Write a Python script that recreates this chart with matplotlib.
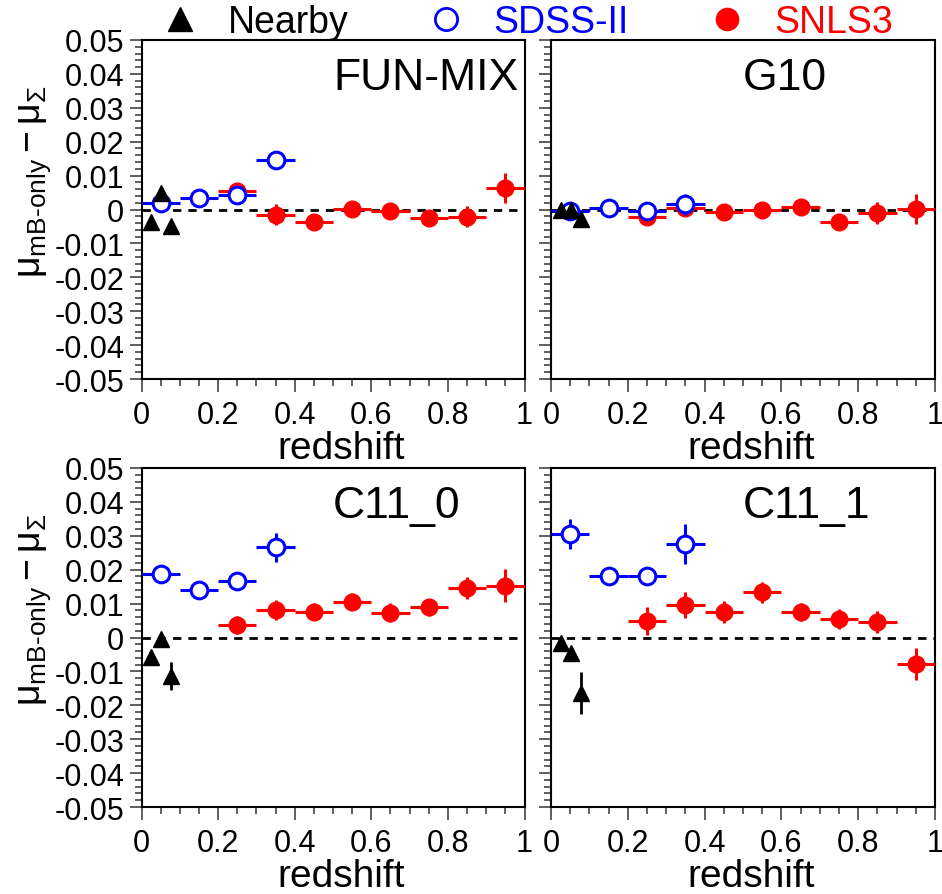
import matplotlib
matplotlib.use("Agg")
import matplotlib.pyplot as plt
from matplotlib.lines import Line2D
from matplotlib.ticker import MultipleLocator, FuncFormatter

plt.rcParams['font.family'] = ['Liberation Sans', 'DejaVu Sans']
plt.rcParams['mathtext.fontset'] = 'custom'
plt.rcParams['mathtext.rm'] = 'Liberation Sans'
plt.rcParams['mathtext.it'] = 'Liberation Sans:italic'
plt.rcParams['axes.unicode_minus'] = False

# redshift bins
nearby_z = [0.026, 0.052, 0.078]
sdss_z = [0.05, 0.15, 0.25, 0.35]
snls_z = [0.25, 0.35, 0.45, 0.55, 0.65, 0.75, 0.85, 0.95]
z_halfwidth = 0.05

panel_names = ["FUN-MIX", "G10", "C11_0", "C11_1"]

# FUN-MIX
funmix_nearby = [-0.0037, 0.0050, -0.0050]
funmix_nearby_err = [0.0008, 0.0008, 0.0018]
funmix_sdss = [0.0020, 0.0035, 0.0042, 0.0147]
funmix_sdss_err = [0.0008, 0.0008, 0.0008, 0.0016]
funmix_snls = [0.0055, -0.0015, -0.0037, 0.0001, -0.0004, -0.0025, -0.0021, 0.0063]
funmix_snls_err = [0.0010, 0.0030, 0.0012, 0.0012, 0.0012, 0.0012, 0.0030, 0.0045]

# G10
g10_nearby = [-0.0002, -0.0002, -0.0028]
g10_nearby_err = [0.0008, 0.0008, 0.0012]
g10_sdss = [-0.0005, 0.0005, -0.0004, 0.0015]
g10_sdss_err = [0.0008, 0.0008, 0.0008, 0.0030]
g10_snls = [-0.0021, 0.0003, -0.0007, -0.0002, 0.0006, -0.0036, -0.0010, 0.0001]
g10_snls_err = [0.0010, 0.0012, 0.0012, 0.0012, 0.0012, 0.0012, 0.0033, 0.0045]

# C11_0
c110_nearby = [-0.0058, -0.0005, -0.0113]
c110_nearby_err = [0.0008, 0.0008, 0.0042]
c110_sdss = [0.0187, 0.0141, 0.0168, 0.0266]
c110_sdss_err = [0.0012, 0.0008, 0.0008, 0.0042]
c110_snls = [0.0037, 0.0081, 0.0076, 0.0106, 0.0073, 0.0089, 0.0147, 0.0153]
c110_snls_err = [0.0027, 0.0030, 0.0025, 0.0025, 0.0028, 0.0025, 0.0032, 0.0049]

# C11_1
c111_nearby = [-0.0016, -0.0046, -0.0165]
c111_nearby_err = [0.0008, 0.0008, 0.0062]
c111_sdss = [0.0305, 0.0182, 0.0180, 0.0276]
c111_sdss_err = [0.0045, 0.0010, 0.0010, 0.0058]
c111_snls = [0.0048, 0.0096, 0.0076, 0.0133, 0.0076, 0.0055, 0.0045, -0.0078]
c111_snls_err = [0.0041, 0.0039, 0.0033, 0.0030, 0.0027, 0.0030, 0.0033, 0.0046]

panels = [
    (funmix_nearby, funmix_nearby_err, funmix_sdss, funmix_sdss_err, funmix_snls, funmix_snls_err),
    (g10_nearby, g10_nearby_err, g10_sdss, g10_sdss_err, g10_snls, g10_snls_err),
    (c110_nearby, c110_nearby_err, c110_sdss, c110_sdss_err, c110_snls, c110_snls_err),
    (c111_nearby, c111_nearby_err, c111_sdss, c111_sdss_err, c111_snls, c111_snls_err),
]

W, H = 942, 895
fig = plt.figure(figsize=(W / 100, H / 100), dpi=100)

# axes boxes in pixels: (left, top, right, bottom)
boxes = [(141.5, 41, 524.5, 380), (551, 41, 935, 380),
         (141.5, 469, 524.5, 808), (551, 469, 935, 808)]

def fmt(v, pos):
    s = f"{v:.2f}".rstrip('0').rstrip('.')
    if s in ("-0", ""):
        s = "0"
    return s

blue = (0, 0, 1)
red = (1, 0, 0)

for i, (box, name, data) in enumerate(zip(boxes, panel_names, panels)):
    l, t, r, b = box
    ax = fig.add_axes([l / W, 1 - b / H, (r - l) / W, (b - t) / H])
    near, near_e, sd, sd_e, sn, sn_e = data

    ax.axhline(0, color='black', ls=(0, (3, 2.5)), lw=2, zorder=1)

    ax.errorbar(snls_z, sn, xerr=z_halfwidth, yerr=sn_e, fmt='o', color=red,
                ms=12, elinewidth=2.2, capsize=0, zorder=3)
    ax.errorbar(sdss_z, sd, xerr=z_halfwidth, yerr=sd_e, fmt='o', color=blue,
                mfc='white', mec=blue, mew=2.2, ms=12, elinewidth=2.2,
                capsize=0, zorder=4)
    ax.errorbar(nearby_z, near, yerr=near_e, fmt='^', color='black',
                ms=11, elinewidth=2, capsize=0, zorder=5)

    ax.set_xlim(0, 1)
    ax.set_ylim(-0.05, 0.05)
    ax.xaxis.set_major_locator(MultipleLocator(0.2))
    ax.xaxis.set_minor_locator(MultipleLocator(0.05))
    ax.yaxis.set_major_locator(MultipleLocator(0.01))
    ax.yaxis.set_minor_locator(MultipleLocator(0.002))
    ax.xaxis.set_major_formatter(FuncFormatter(fmt))
    ax.yaxis.set_major_formatter(FuncFormatter(fmt))
    ax.tick_params(which='major', length=9, width=1.2, labelsize=22,
                   direction='out', color='#444444')
    ax.tick_params(which='minor', length=5, width=1.2, direction='out',
                   color='#444444')
    ax.tick_params(axis='x', pad=6)
    for sp in ax.spines.values():
        sp.set_linewidth(1.5)
        sp.set_color('black')

    if i % 2 == 1:
        ax.set_yticklabels([])
    else:
        ax.set_ylabel(r'$\mathrm{\mu_{mB‐only}} - \mathrm{\mu_{\Sigma}}$',
                      fontsize=27)
        ax.yaxis.set_label_coords(-0.232, 0.585)
    ax.set_xlabel('redshift', fontsize=28, labelpad=0)
    ax.xaxis.set_label_coords(0.52, -0.15)

    ax.text(0.5, 0.889, name, transform=ax.transAxes, fontsize=32,
            ha='left', va='center')

handles = [
    Line2D([], [], marker='^', ls='none', color='black', ms=17),
    Line2D([], [], marker='o', ls='none', mfc='white', mec=blue, mew=2, ms=16),
    Line2D([], [], marker='o', ls='none', color=red, ms=16),
]
leg = fig.legend(handles, ["Nearby", "SDSS-II", "SNLS3"], loc='center',
                 bbox_to_anchor=(527 / W, 1 - 23 / H), ncol=3, frameon=False,
                 fontsize=27, handlelength=1.0, handletextpad=0.78,
                 columnspacing=2.1, borderpad=0, borderaxespad=0)
for txt, c in zip(leg.get_texts(), ['black', blue, red]):
    txt.set_color(c)

fig.savefig("out.png", dpi=100)
